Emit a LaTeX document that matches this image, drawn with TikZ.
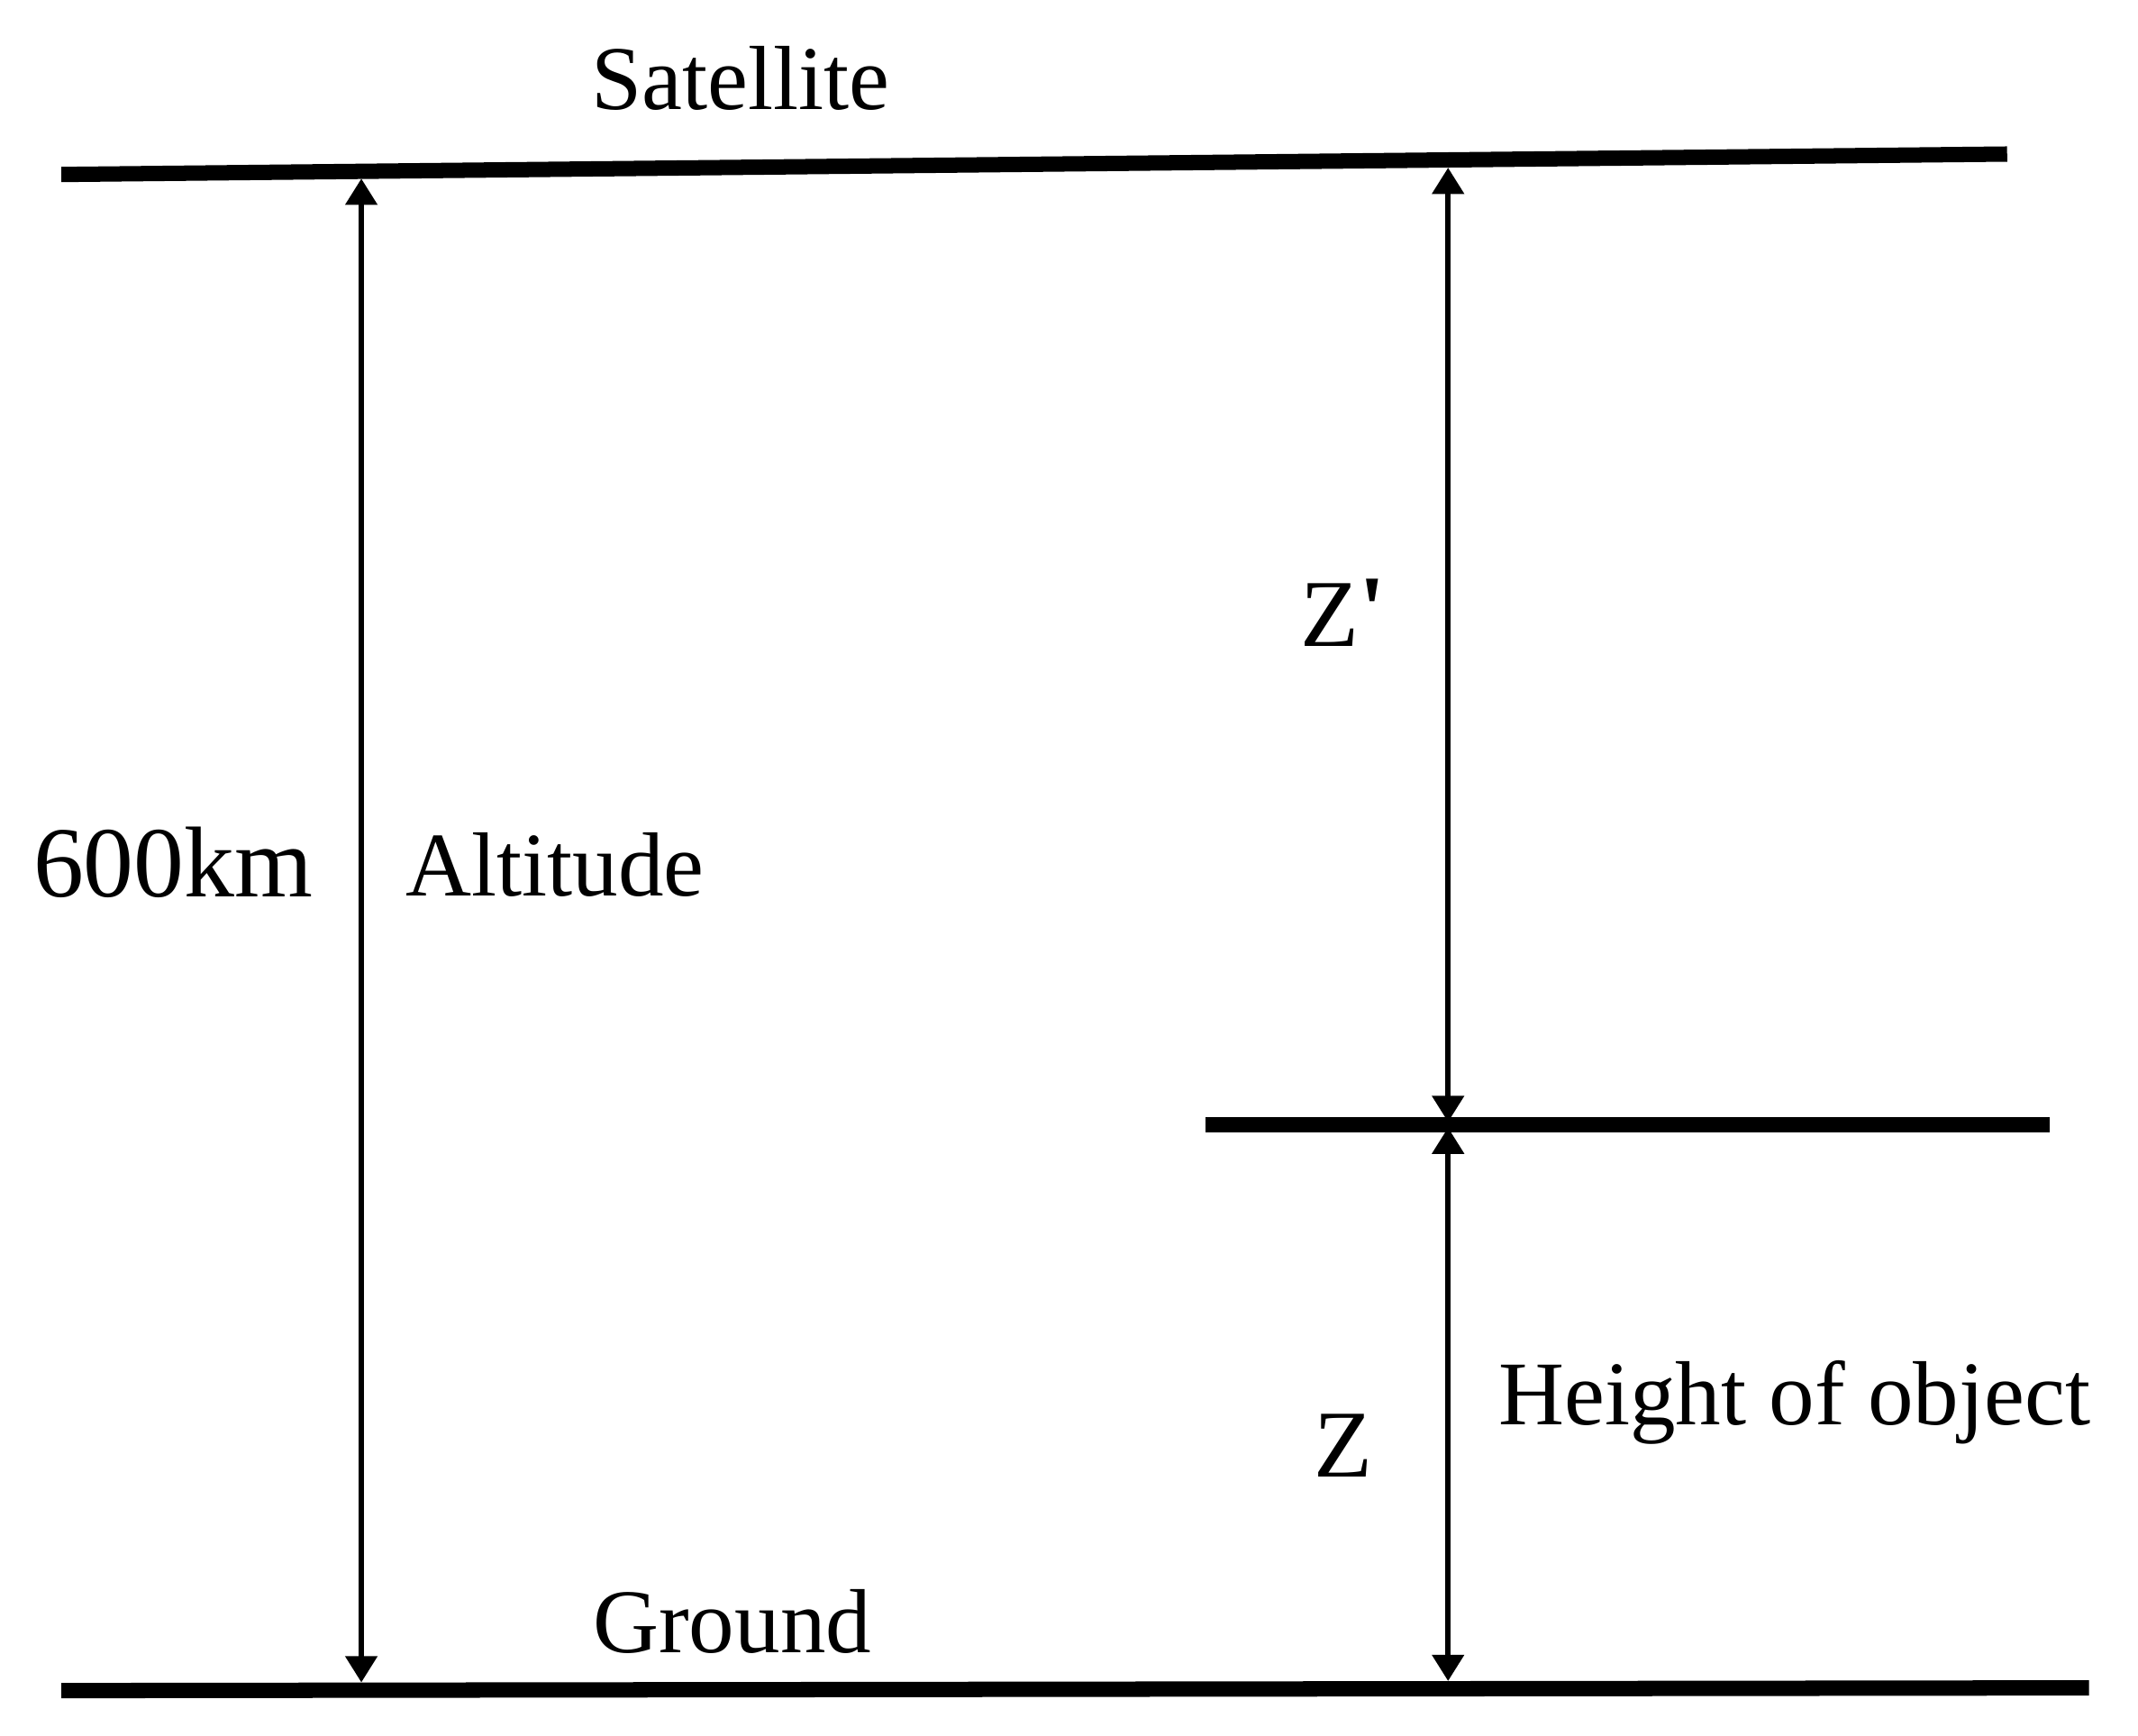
\documentclass[tikz,border=0pt]{standalone}
\usepackage{fontspec}
\setmainfont{Liberation Serif}
\usepackage{tikz}
\usetikzlibrary{arrows.meta}

\tikzset{
    level/.style={line width=3.2pt},
    dimarrow/.style={line width=1.2pt, {Triangle[width=6.5pt,length=5.5pt]}-{Triangle[width=6.5pt,length=5.5pt]}},
    lbl/.style={anchor=base, inner sep=0pt, font=\fontsize{19}{22}\selectfont}
}

\begin{document}
\begin{tikzpicture}
    \useasboundingbox (0,0) rectangle (15.68,12.73);

    % Levels (satellite, object top, ground)
    \coordinate (satW) at (0.45,11.45);
    \coordinate (satE) at (14.72,11.60);
    \coordinate (objW) at (8.84,4.48);
    \coordinate (objE) at (15.03,4.48);
    \coordinate (gndW) at (0.45,0.33);
    \coordinate (gndE) at (15.32,0.35);
    \draw[level] (satW) -- (satE);
    \draw[level] (objW) -- (objE);
    \draw[level] (gndW) -- (gndE);

    % Arrow ends
    \coordinate (altTop) at (2.65,11.42);
    \coordinate (altBot) at (2.65,0.39);
    \coordinate (zpTop) at (10.62,11.50);
    \coordinate (zpBot) at (10.62,4.50);
    \coordinate (zTop) at (10.62,4.46);
    \coordinate (zBot) at (10.62,0.40);
    \draw[dimarrow] (altTop) -- (altBot);
    \draw[dimarrow] (zpTop) -- (zpBot);
    \draw[dimarrow] (zTop) -- (zBot);

    % Labels
    \node[lbl] (satellite) at (5.43,11.93) {Satellite};
    \node[lbl] (ground) at (5.37,0.61) {Ground};
    \node[lbl, font=\fontsize{21}{24}\selectfont] (km) at (1.27,6.15) {600km};
    \node[lbl, anchor=base west] (altitude) at (2.97,6.16) {Altitude};
    \node[lbl, font=\fontsize{20}{24}\selectfont] (zprime) at (9.85,7.99) {Z\raisebox{0.1ex}{\bfseries\textquotesingle}};
    \node[lbl, font=\fontsize{20}{24}\selectfont] (z) at (9.85,1.90) {Z};
    \node[lbl] (height) at (13.16,2.28) {Height of object};
\end{tikzpicture}
\end{document}
